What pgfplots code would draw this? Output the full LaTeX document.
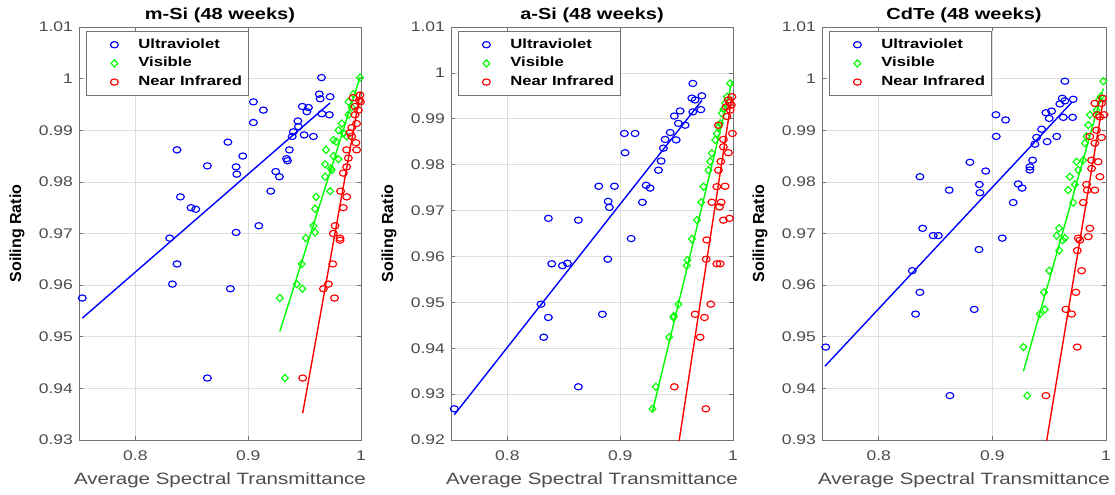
\documentclass[border=0pt]{standalone}
\usepackage{fontspec}
\setmainfont{Liberation Sans}[FakeStretch=1.25]
\newfontfamily\ylabfont{Liberation Sans}
\usepackage{pgfplots}
\pgfplotsset{compat=1.18}

\pgfplotsset{
  panel/.style={
    scale only axis, anchor=south west, height=309.75pt,
    xmin=0.75, xmax=1, xtick={0.8,0.9,1},
    grid=major, major grid style={black!13, line width=0.5pt},
    axis line style={black!55, line width=0.6pt},
    tick align=inside, major tick length=3pt,
    tick style={black!55, line width=0.5pt},
    /pgf/number format/assume math mode=true,
    ticklabel style={font=\fontsize{10.5}{12}\selectfont, text=black!70},
    xticklabel style={anchor=base, yshift=-15pt},
    yticklabel style={anchor=east, xshift=-1pt},
    xlabel={Average Spectral Transmittance},
    xlabel style={at={(0.5,0)}, anchor=base, yshift=-33pt, font=\fontsize{12.3}{14}\selectfont, text=black!70},
    ylabel={Soiling Ratio},
    ylabel style={at={(0,0.5)}, anchor=center, rotate=0, yshift=46.5pt, font=\ylabfont\bfseries\fontsize{12}{14}\selectfont},
    title style={at={(0.5,1)}, anchor=base, yshift=-0.5pt, font=\bfseries\fontsize{12}{14}\selectfont},
    legend style={at={(0,1)}, anchor=north west, xshift=5.25pt, yshift=-3pt,
      draw=black!55, fill=white, line width=0.6pt, inner xsep=3pt, inner ysep=3pt,
      font=\bfseries\fontsize{10}{12}\selectfont,
      nodes={inner sep=2pt, text height=7.5pt, text depth=2.5pt}},
    legend cell align=left,
    legend image code/.code={\path[draw=none,fill=none] (0pt,-0.05pt) rectangle (34pt,0.05pt); \draw[##1] plot coordinates {(18pt,0pt)};},
  },
  uv/.style={blue, only marks, mark=o, mark size=2.35pt, mark options={xscale=1.25, line width=0.85pt}},
  vis/.style={green, only marks, mark=diamond, mark size=2.7pt, mark options={xscale=1.25, line width=0.85pt}},
  nir/.style={red, only marks, mark=o, mark size=2.35pt, mark options={xscale=1.25, line width=0.85pt}},
  fit/.style={line width=1.05pt, forget plot},
}

\begin{document}
\begin{tikzpicture}
\useasboundingbox (0pt,0pt) rectangle (836.25pt,370.5pt);

% ---------------- m-Si ----------------
\begin{axis}[panel, at={(59.25pt,40.5pt)}, width=211.5pt,
  ymin=0.93, ymax=1.01, ytick={0.93,0.94,0.95,0.96,0.97,0.98,0.99,1,1.01},
  title={m-Si (48 weeks)}]
\addplot[uv] coordinates {
(0.965,1.0002)(0.963,0.9970)(0.9726,0.9965)(0.9638,0.9961)(0.9653,0.9932)(0.972,0.9930)
(0.948,0.9946)(0.9534,0.9944)(0.952,0.9936)(0.944,0.9918)(0.9445,0.9907)(0.940,0.9897)
(0.939,0.9888)(0.9496,0.9891)(0.9578,0.9888)(0.9365,0.9862)(0.934,0.9845)(0.9348,0.9841)
(0.9046,0.9955)(0.9135,0.9939)(0.9046,0.9915)(0.882,0.9877)(0.8952,0.9850)(0.8893,0.9829)
(0.8899,0.9815)(0.9244,0.9820)(0.9277,0.9810)(0.920,0.9782)(0.8369,0.9862)(0.8638,0.9831)
(0.8399,0.9771)(0.8493,0.9750)(0.8535,0.9747)(0.9094,0.9715)(0.8893,0.9702)(0.8304,0.9691)
(0.8369,0.9641)(0.8328,0.9602)(0.7529,0.9575)(0.8842,0.9593)(0.8638,0.9420)};
\addplot[vis] coordinates {
(0.928,0.9575)(0.9326,0.9420)(0.943,0.9602)(0.948,0.9593)(0.9474,0.9641)(0.951,0.9691)
(0.9578,0.9715)(0.9593,0.9702)(0.9593,0.9748)(0.9602,0.9771)(0.9726,0.9782)(0.9682,0.9810)
(0.9682,0.9834)(0.9732,0.9826)(0.969,0.9862)(0.9755,0.9850)(0.978,0.9878)(0.980,0.9844)
(0.983,0.9913)(0.9845,0.9894)(0.9873,0.9888)(0.9889,0.9930)(0.9889,0.9955)(0.9918,0.9944)
(0.9933,0.9970)(0.9991,1.0002)(0.980,0.9900)(0.9755,0.9881)(0.9741,0.9823)};
\addplot[nir] coordinates {
(0.9483,0.9420)(0.9667,0.9593)(0.9711,0.9602)(0.9765,0.9575)(0.975,0.9641)(0.9814,0.9687)
(0.977,0.9715)(0.9755,0.9700)(0.9814,0.9691)(0.9843,0.9750)(0.9873,0.9771)(0.9819,0.9782)
(0.9843,0.9817)(0.9873,0.9829)(0.9888,0.9846)(0.9873,0.9862)(0.9955,0.9876)(0.9961,0.9862)
(0.9918,0.9888)(0.9961,0.9913)(0.9976,0.9939)(0.9985,0.9958)(0.9991,0.9968)(0.9995,0.9955)
(0.9947,0.9946)(0.9947,0.9930)(0.9918,0.9905)(0.9902,0.9895)(0.993,0.9963)};
\addplot[blue, fit] coordinates {(0.7529,0.9536)(0.9726,0.9953)};
\addplot[green, fit] coordinates {(0.928,0.951)(0.9991,1.0003)};
\addplot[red, fit] coordinates {(0.9483,0.9352)(0.9995,0.9975)};
\legend{Ultraviolet, Visible, Near Infrared}
\end{axis}

% ---------------- a-Si ----------------
\begin{axis}[panel, at={(338.25pt,40.5pt)}, width=211.5pt,
  ymin=0.92, ymax=1.01, ytick={0.92,0.93,0.94,0.95,0.96,0.97,0.98,0.99,1,1.01},
  title={a-Si (48 weeks)}]
\addplot[uv] coordinates {
(0.9644,0.9977)(0.9635,0.9945)(0.9724,0.9950)(0.9664,0.9941)(0.9644,0.9915)(0.9715,0.9920)
(0.9531,0.9917)(0.948,0.9906)(0.9576,0.9886)(0.9516,0.9890)(0.9443,0.9870)(0.9398,0.9855)
(0.9496,0.9854)(0.9383,0.9836)(0.9363,0.9808)(0.9339,0.9788)(0.9037,0.9868)(0.9132,0.9868)
(0.9043,0.9826)(0.881,0.9753)(0.8949,0.9753)(0.923,0.9755)(0.9265,0.9749)(0.8893,0.9720)
(0.8904,0.9707)(0.9197,0.9718)(0.8363,0.9683)(0.8629,0.9679)(0.9097,0.9639)(0.8393,0.9584)
(0.8488,0.9580)(0.8532,0.9585)(0.889,0.9594)(0.8298,0.9496)(0.8363,0.9467)(0.8842,0.9474)
(0.8322,0.9424)(0.8629,0.9316)(0.7529,0.9268)};
\addplot[vis] coordinates {
(0.9286,0.9268)(0.9316,0.9316)(0.9434,0.9424)(0.9472,0.9467)(0.9475,0.9470)(0.9516,0.9496)
(0.959,0.9580)(0.9596,0.9592)(0.9635,0.9638)(0.968,0.9679)(0.9718,0.9718)(0.9738,0.9752)
(0.9782,0.9788)(0.9797,0.9807)(0.9812,0.9825)(0.9842,0.9854)(0.9857,0.9868)(0.9872,0.9882)
(0.9886,0.9890)(0.9901,0.9912)(0.9916,0.9921)(0.9931,0.9934)(0.9946,0.9948)(0.9975,0.9977)};
\addplot[nir] coordinates {
(0.948,0.9316)(0.9759,0.9268)(0.9709,0.9424)(0.9664,0.9474)(0.9747,0.9467)(0.9803,0.9496)
(0.9762,0.9594)(0.9857,0.9584)(0.9886,0.9584)(0.9768,0.9636)(0.9915,0.9679)(0.9968,0.9683)
(0.9812,0.9718)(0.9895,0.9718)(0.988,0.9708)(0.9857,0.9752)(0.993,0.9753)(0.9871,0.9788)
(0.9892,0.9807)(0.9959,0.9826)(0.9915,0.9839)(0.9915,0.9855)(0.9871,0.9886)(0.9995,0.9868)
(0.9946,0.9905)(0.9975,0.9919)(0.999,0.9948)(0.9959,0.9941)(0.9939,0.9926)(0.997,0.9935)
(0.9985,0.9930)};
\addplot[blue, fit] coordinates {(0.7529,0.9255)(0.9724,0.9940)};
\addplot[green, fit] coordinates {(0.9286,0.9262)(0.999,0.998)};
\addplot[red, fit] coordinates {(0.948,0.913)(0.999,0.9948)};
\legend{Ultraviolet, Visible, Near Infrared}
\end{axis}

% ---------------- CdTe ----------------
\begin{axis}[panel, at={(616.5pt,40.5pt)}, width=213pt,
  ymin=0.93, ymax=1.01, ytick={0.93,0.94,0.95,0.96,0.97,0.98,0.99,1,1.01},
  title={CdTe (48 weeks)}]
\addplot[uv] coordinates {
(0.9638,0.9995)(0.9615,0.9962)(0.9711,0.9960)(0.9638,0.9957)(0.9594,0.9951)(0.9624,0.9925)
(0.9706,0.9925)(0.9471,0.9934)(0.9521,0.9937)(0.95,0.9923)(0.9433,0.9902)(0.9566,0.9888)
(0.9389,0.9886)(0.9482,0.9878)(0.9374,0.9873)(0.9354,0.9842)(0.933,0.9829)(0.933,0.9823)
(0.9031,0.9930)(0.9116,0.9920)(0.9034,0.9888)(0.8802,0.9838)(0.8941,0.9821)(0.8885,0.9795)
(0.889,0.9779)(0.9227,0.9796)(0.9262,0.9788)(0.9183,0.9760)(0.8362,0.9810)(0.862,0.9784)
(0.8386,0.9710)(0.8479,0.9696)(0.8524,0.9696)(0.9087,0.9691)(0.8882,0.9669)(0.8295,0.9628)
(0.8362,0.9586)(0.8324,0.9544)(0.884,0.9553)(0.7533,0.9480)(0.8626,0.9386)};
\addplot[vis] coordinates {
(0.9273,0.9480)(0.9307,0.9386)(0.9418,0.9544)(0.9462,0.9553)(0.9454,0.9586)(0.95,0.9628)
(0.9588,0.9667)(0.9618,0.9687)(0.9586,0.9710)(0.9638,0.9691)(0.9566,0.9696)(0.9711,0.9760)
(0.9667,0.9784)(0.9726,0.9795)(0.9682,0.9810)(0.9756,0.9823)(0.9741,0.9839)(0.980,0.9842)
(0.9814,0.9875)(0.9829,0.9888)(0.9844,0.9910)(0.9858,0.9930)(0.9917,0.9939)(0.994,0.9959)
(0.9953,0.9965)(0.9976,0.9995)};
\addplot[nir] coordinates {
(0.9471,0.9386)(0.9747,0.9480)(0.9647,0.9553)(0.9697,0.9544)(0.9735,0.9586)(0.9785,0.9628)
(0.9747,0.9667)(0.977,0.9687)(0.9756,0.9691)(0.9844,0.9694)(0.9858,0.9710)(0.980,0.9760)
(0.9829,0.9795)(0.9902,0.9784)(0.9835,0.9784)(0.9873,0.9826)(0.9946,0.9810)(0.9931,0.9839)
(0.9873,0.9842)(0.9902,0.9875)(0.9961,0.9886)(0.9858,0.9888)(0.9917,0.9900)(0.9946,0.9926)
(0.9982,0.9930)(0.9961,0.9952)(0.997,0.9962)(0.9923,0.9930)(0.9902,0.9952)};
\addplot[blue, fit] coordinates {(0.7526,0.9443)(0.9703,0.9955)};
\addplot[green, fit] coordinates {(0.9273,0.9433)(0.9976,0.9981)};
\addplot[red, fit] coordinates {(0.9471,0.929)(0.9976,0.9959)};
\legend{Ultraviolet, Visible, Near Infrared}
\end{axis}
\end{tikzpicture}
\end{document}
